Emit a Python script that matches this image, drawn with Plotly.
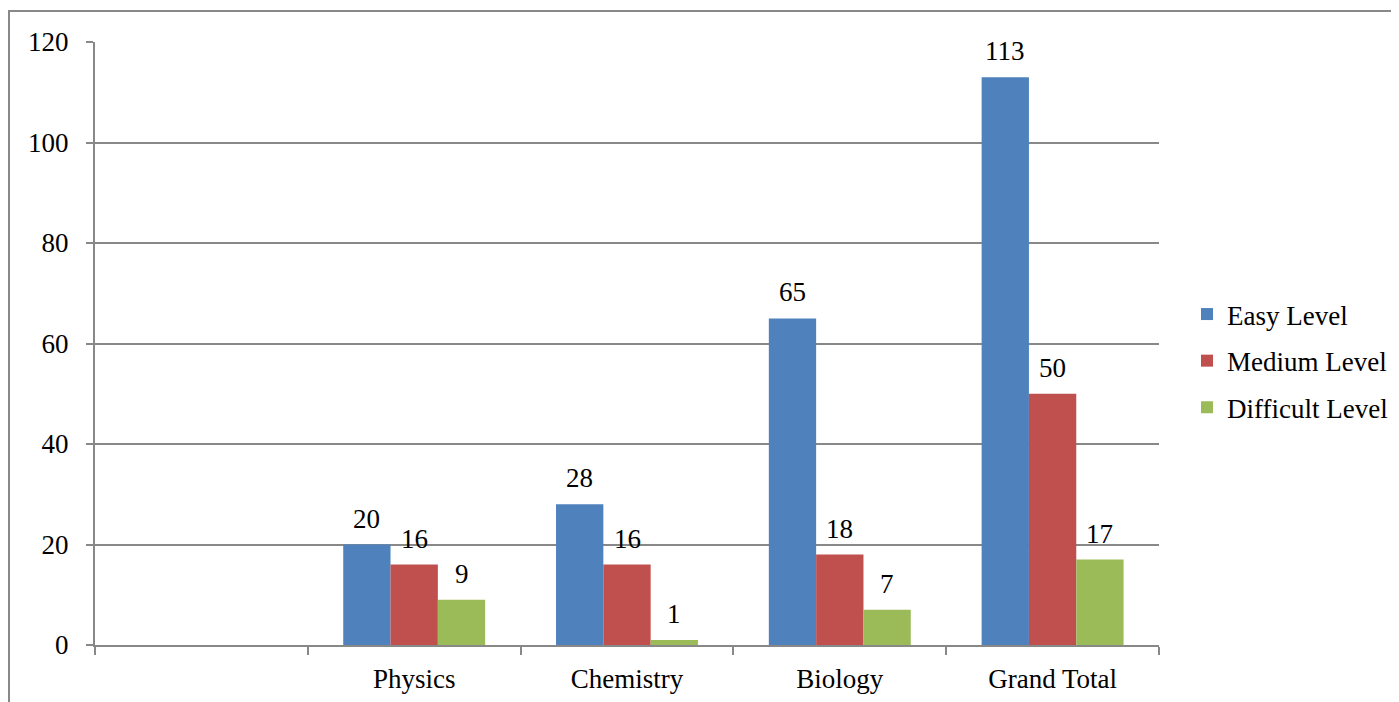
import plotly.graph_objects as go

categories = ["", "Physics", "Chemistry", "Biology", "Grand Total"]
easy = [None, 20, 28, 65, 113]
medium = [None, 16, 16, 18, 50]
difficult = [None, 9, 1, 7, 17]
y_ticks = [0, 20, 40, 60, 80, 100, 120]

FONT = "'Liberation Serif', Tinos, 'Times New Roman', Times, serif"
FS = 27
series = [("Easy Level", easy, "#4F81BD"),
          ("Medium Level", medium, "#C0504D"),
          ("Difficult Level", difficult, "#9BBB59")]

# page body has an 8px margin: compensate so plot area sits where it should
OFF = 8
L, T = 95 - OFF, 42 - OFF
pw, ph = 1064, 603
R = 1399 - L - pw
B = 702 - T - ph

fig = go.Figure()
for name, vals, col in series:
    fig.add_trace(go.Bar(
        x=categories, y=vals, name=name, legendgroup=name,
        marker=dict(color=col, line=dict(width=0)),
    ))

bar_w = pw / len(categories) * (1 - 0.333) / 3
for i, (name, vals, col) in enumerate(series):
    for c, v in zip(categories, vals):
        if v is None:
            continue
        fig.add_annotation(x=c, y=v, text=str(v), showarrow=False,
                           xshift=(i - 1) * bar_w, yshift=26, yanchor="middle",
                           font=dict(family=FONT, size=FS, color="#000"))

fig.update_layout(
    width=1399, height=702,
    margin=dict(l=L, r=R, t=T, b=B, pad=0, autoexpand=False),
    paper_bgcolor="white", plot_bgcolor="white",
    barmode="group", bargap=0.333, bargroupgap=0,
    font=dict(family=FONT, size=FS, color="#000"),
    showlegend=True,
    legend=dict(x=(1187 - 95) / pw, y=1 - (361 - 42) / ph, xanchor="left", yanchor="middle",
                font=dict(family=FONT, size=FS), itemwidth=30,
                tracegroupgap=8.5, bgcolor="rgba(0,0,0,0)"),
    xaxis=dict(type="category", showline=True, linecolor="#888", linewidth=2,
               ticks="outside", tickson="boundaries", ticklen=8, tickcolor="#888",
               tickwidth=2, showgrid=False, tickfont=dict(family=FONT, size=FS),
               ticklabelstandoff=9, range=[-0.5, 4.5]),
    yaxis=dict(range=[0, 120], tickvals=y_ticks, showline=True, linecolor="#888",
               linewidth=2, ticks="outside", ticklen=7, tickcolor="#888", tickwidth=2,
               showgrid=True, gridcolor="#888", gridwidth=1.5, zeroline=False,
               tickfont=dict(family=FONT, size=FS), ticklabelstandoff=12),
)
fig.add_shape(type="rect", xref="paper", yref="paper",
              x0=(9 - 95) / pw, x1=1.5, y0=-0.5, y1=1 + (42 - 11) / ph,
              line=dict(color="#888", width=2), layer="above")
fig.write_html("out.html")
